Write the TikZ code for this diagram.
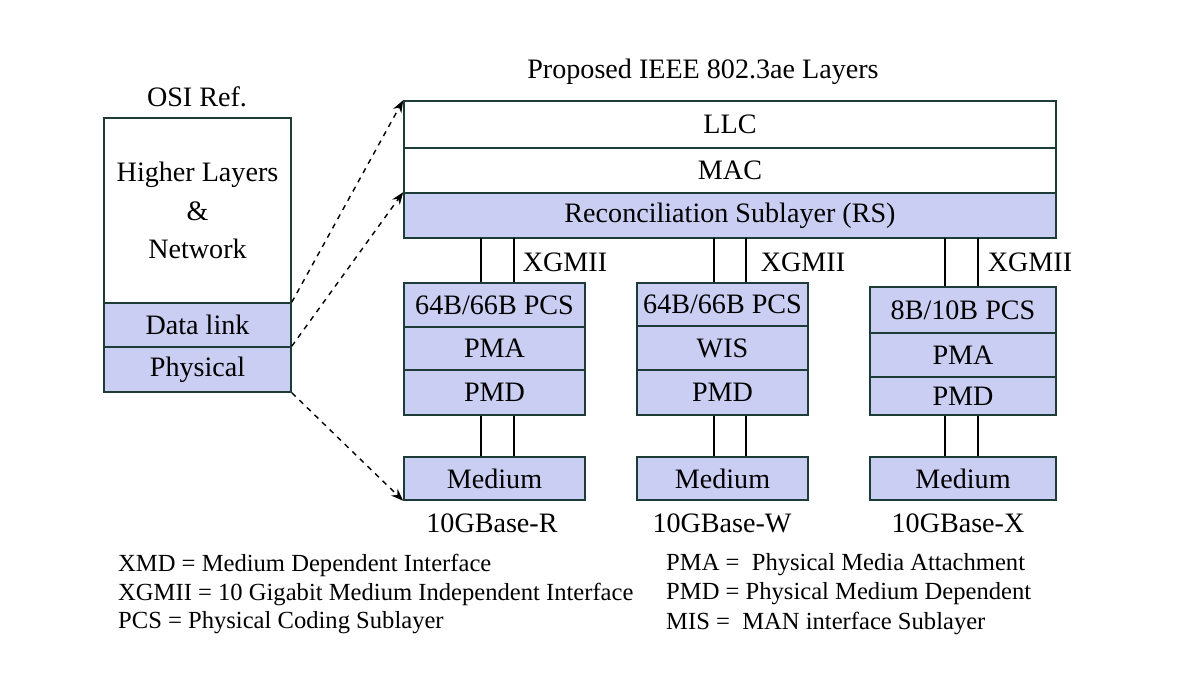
\documentclass[tikz,border=0pt]{standalone}
\usepackage{fontspec}
\setmainfont{Liberation Serif}
\usetikzlibrary{arrows.meta}
\definecolor{layblue}{RGB}{202,206,242}
\definecolor{edge}{RGB}{30,60,55}
\tikzset{
  lay/.style={draw=edge, line width=0.9pt, inner sep=0, font=\fontsize{16}{18}\selectfont},
  blue/.style={lay, fill=layblue},
  lbl/.style={font=\fontsize{16}{18}\selectfont},
  leg/.style={font=\fontsize{14}{16}\selectfont, anchor=west},
  link/.style={dashed, line width=0.8pt, -{Stealth[length=7pt]}},
  pipe/.style={line width=0.9pt}
}
\begin{document}
\begin{tikzpicture}[x=0.02cm, y=-0.02cm]
\useasboundingbox (0,0) rectangle (1200,675);
% OSI reference
\node[lbl] (osit) at (197,97) {OSI Ref.};
\node[lay, minimum width=187*0.02cm, minimum height=185*0.02cm, align=center, font=\fontsize{16}{22}\selectfont] (hl) at (197.5,210.5) {Higher Layers\\\&\\Network};
\node[blue, minimum width=187*0.02cm, minimum height=44*0.02cm] (dl) at (197.5,325) {Data link};
\node[blue, minimum width=187*0.02cm, minimum height=45*0.02cm] (ph) at (197.5,369.5) {Physical};

% IEEE layers
\node[lbl] (ieeet) at (703,72) {Proposed IEEE 802.3ae Layers};
\node[lay, minimum width=652*0.02cm, minimum height=47*0.02cm] (llc) at (730,124.5) {LLC};
\node[lay, minimum width=652*0.02cm, minimum height=45*0.02cm] (mac) at (730,170.5) {MAC};
\node[blue, minimum width=652*0.02cm, minimum height=45*0.02cm] (rs) at (730,215.5) {Reconciliation Sublayer (RS)};

% column R
\node[blue, minimum width=181*0.02cm, minimum height=44*0.02cm] (pcsr) at (494.5,305) {64B/66B PCS};
\node[blue, minimum width=181*0.02cm, minimum height=43*0.02cm] (pmar) at (494.5,348.5) {PMA};
\node[blue, minimum width=181*0.02cm, minimum height=45*0.02cm] (pmdr) at (494.5,392.5) {PMD};
\node[blue, minimum width=181*0.02cm, minimum height=43*0.02cm] (medr) at (494.5,478.5) {Medium};
\node[lbl] (namer) at (492,523) {10GBase-R};
% column W
\node[blue, minimum width=171*0.02cm, minimum height=43*0.02cm] (pcsw) at (722.5,304.5) {64B/66B PCS};
\node[blue, minimum width=171*0.02cm, minimum height=44*0.02cm] (wisw) at (722.5,348) {WIS};
\node[blue, minimum width=171*0.02cm, minimum height=45*0.02cm] (pmdw) at (722.5,392.5) {PMD};
\node[blue, minimum width=171*0.02cm, minimum height=43*0.02cm] (medw) at (722.5,478.5) {Medium};
\node[lbl] (namew) at (722,523) {10GBase-W};
% column X
\node[blue, minimum width=186*0.02cm, minimum height=46*0.02cm] (pcsx) at (963,310) {8B/10B PCS};
\node[blue, minimum width=186*0.02cm, minimum height=44*0.02cm] (pmax) at (963,355) {PMA};
\node[blue, minimum width=186*0.02cm, minimum height=38*0.02cm] (pmdx) at (963,396) {PMD};
\node[blue, minimum width=186*0.02cm, minimum height=43*0.02cm] (medx) at (963,478.5) {Medium};
\node[lbl] (namex) at (958,523) {10GBase-X};

% interfaces
\foreach \xa/\xb/\up/\dn/\med in {481/514/pcsr/pmdr/medr, 714/746/pcsw/pmdw/medw, 945/978/pcsx/pmdx/medx}{
  \draw[pipe] (\xa,238) -- (\up.north -| \xa,0);
  \draw[pipe] (\xb,238) -- (\up.north -| \xb,0);
  \draw[pipe] (\dn.south -| \xa,0) -- (\med.north -| \xa,0);
  \draw[pipe] (\dn.south -| \xb,0) -- (\med.north -| \xb,0);
}
\node[lbl] (xgr) at (565,262) {XGMII};
\node[lbl] (xgw) at (803,262) {XGMII};
\node[lbl] (xgx) at (1030,262) {XGMII};

% mapping
\draw[link] (dl.north east) -- (llc.north west);
\draw[link] (ph.north east) -- (rs.north west);
\draw[link] (ph.south east) -- (medr.south west);

% legend
\node[leg] (l1) at (112,565) {XMD = Medium Dependent Interface};
\node[leg] (l2) at (112,594) {XGMII = 10 Gigabit Medium Independent Interface};
\node[leg] (l3) at (112,623) {PCS = Physical Coding Sublayer};
\node[leg] (l4) at (660,565) {PMA = \ Physical Media Attachment};
\node[leg] (l5) at (660,594) {PMD = Physical Medium Dependent};
\node[leg] (l6) at (660,623) {MIS = \ MAN interface Sublayer};
\end{tikzpicture}
\end{document}
